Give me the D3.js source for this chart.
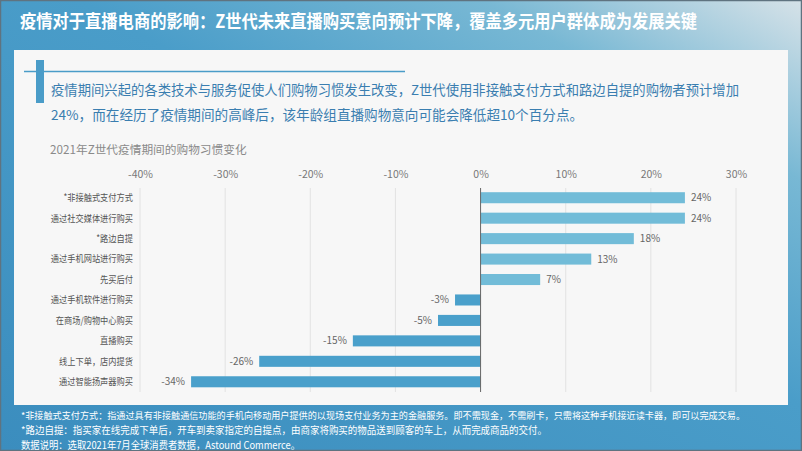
<!DOCTYPE html>
<html><head><meta charset="utf-8">
<script src="https://cdn.jsdelivr.net/npm/d3@7"></script>
<style>html,body{margin:0;padding:0;background:#fff;}svg{display:block;}</style>
</head><body>
<svg id="c" width="802" height="451"></svg>
<script>
const categories = ["*非接触式支付方式","通过社交媒体进行购买","*路边自提","通过手机网站进行购买","先买后付","通过手机软件进行购买","在商场/购物中心购买","直播购买","线上下单，店内提货","通过智能扬声器购买"];
const values = [24,24,18,13,7,-3,-5,-15,-26,-34];
const tickValues = [-40,-30,-20,-10,0,10,20,30];
const title = "疫情对于直播电商的影响：Z世代未来直播购买意向预计下降，覆盖多元用户群体成为发展关键";
const summary = ["疫情期间兴起的各类技术与服务促使人们购物习惯发生改变，Z世代使用非接触支付方式和路边自提的购物者预计增加","24%，而在经历了疫情期间的高峰后，该年龄组直播购物意向可能会降低超10个百分点。"];
const chartTitle = "2021年Z世代疫情期间的购物习惯变化";
const notes = ["*非接触式支付方式：指通过具有非接触通信功能的手机向移动用户提供的以现场支付业务为主的金融服务。即不需现金，不需刷卡，只需将这种手机接近读卡器，即可以完成交易。","*路边自提：指买家在线完成下单后，开车到卖家指定的自提点，由商家将购买的物品送到顾客的车上，从而完成商品的交付。","数据说明：选取2021年7月全球消费者数据，Astound Commerce。"];

const font = "'Noto Sans CJK SC','Noto Sans',sans-serif";
const svg = d3.select("#c");
const defs = svg.append("defs");
const g = defs.append("linearGradient").attr("id","bg").attr("x1","0").attr("y1","1").attr("x2","1").attr("y2","0");
g.append("stop").attr("offset","0").attr("stop-color","#3b8dbe");
g.append("stop").attr("offset","0.55").attr("stop-color","#4a9dc9");
g.append("stop").attr("offset","0.8").attr("stop-color","#78b8d4");
g.append("stop").attr("offset","1").attr("stop-color","#d6e2e8");
svg.append("rect").attr("width",802).attr("height",451).attr("fill","url(#bg)");
svg.append("rect").attr("x",0.5).attr("y",0.5).attr("width",801).attr("height",450).attr("fill","none").attr("stroke","#5f7380").attr("stroke-width",1.5);

svg.append("text").attr("x",20).attr("y",28).attr("fill","#fff").attr("font-family",font).attr("font-weight","bold").attr("font-size",18)
  .attr("textLength",677).attr("lengthAdjust","spacingAndGlyphs").text(title);

// panel
svg.append("rect").attr("x",14).attr("y",50).attr("width",774).attr("height",355).attr("fill","#f7f7f7");
svg.append("line").attr("x1",24).attr("x2",405).attr("y1",71.5).attr("y2",71.5).attr("stroke","#4a9cc8").attr("stroke-width",1.5);
svg.append("rect").attr("x",36).attr("y",60).attr("width",8).attr("height",43).attr("fill","#4a9cc8");

summary.forEach((s,i)=>{
  const t = svg.append("text").attr("x",51).attr("y",95+i*25).attr("fill","#3a7eb0").attr("font-family",font).attr("font-size",13.6).text(s);
  if(i===0) t.attr("textLength",688).attr("lengthAdjust","spacingAndGlyphs");
});
svg.append("text").attr("x",50).attr("y",154).attr("fill","#8a8a8a").attr("font-family",font).attr("font-size",11.7).text(chartTitle);

const x = d3.scaleLinear().domain([-40,30]).range([140,736]);
const y = d3.scaleBand().domain(categories).range([187.5,392]).paddingInner(0.46).paddingOuter(0.23);

// grid
svg.append("g").selectAll("line").data(tickValues.filter(d=>d!==0)).join("line")
  .attr("x1",d=>x(d)).attr("x2",d=>x(d)).attr("y1",188).attr("y2",392)
  .attr("stroke","#e2e2e2").attr("stroke-width",1);

const ax = svg.append("g").attr("transform","translate(0,181)")
  .call(d3.axisTop(x).tickValues(tickValues).tickFormat(d=>d+"%").tickSize(0));
ax.select(".domain").remove();
ax.selectAll("text").attr("fill","#777").attr("font-family",font).attr("font-size",10.5);

svg.append("g").selectAll("rect").data(values).join("rect")
  .attr("x",d=>x(Math.min(0,d))).attr("width",d=>Math.abs(x(d)-x(0)))
  .attr("y",(d,i)=>y(categories[i])).attr("height",y.bandwidth())
  .attr("fill",d=>d>=0?"#72bcd8":"#4aa0cb");

svg.append("line").attr("x1",x(0)).attr("x2",x(0)).attr("y1",188).attr("y2",392).attr("stroke","#666").attr("stroke-width",1);

svg.append("g").selectAll("text").data(values).join("text")
  .attr("x",d=>d>=0?x(d)+6:x(d)-6)
  .attr("text-anchor",d=>d>=0?"start":"end")
  .attr("y",(d,i)=>y(categories[i])+y.bandwidth()/2).attr("dy","0.35em")
  .attr("fill","#666").attr("font-family",font).attr("font-size",10)
  .text(d=>d+"%");

svg.append("g").selectAll("text").data(categories).join("text")
  .attr("x",133).attr("text-anchor","end")
  .attr("y",d=>y(d)+y.bandwidth()/2).attr("dy","0.35em")
  .attr("fill","#555").attr("font-family",font).attr("font-size",9.5)
  .text(d=>d)
  .each(function(){ const w=this.getComputedTextLength(); d3.select(this).attr("textLength",w*0.865).attr("lengthAdjust","spacingAndGlyphs"); });

const noteW = [724,526,279];
const noteF = [9.3,10,10];
notes.forEach((s,i)=>{
  svg.append("text").attr("x",21).attr("y",418.5+i*15.2).attr("fill","#fff").attr("font-family",font).attr("font-size",noteF[i])
    .attr("textLength",noteW[i]).attr("lengthAdjust","spacingAndGlyphs").text(s);
});
</script>
</body></html>
